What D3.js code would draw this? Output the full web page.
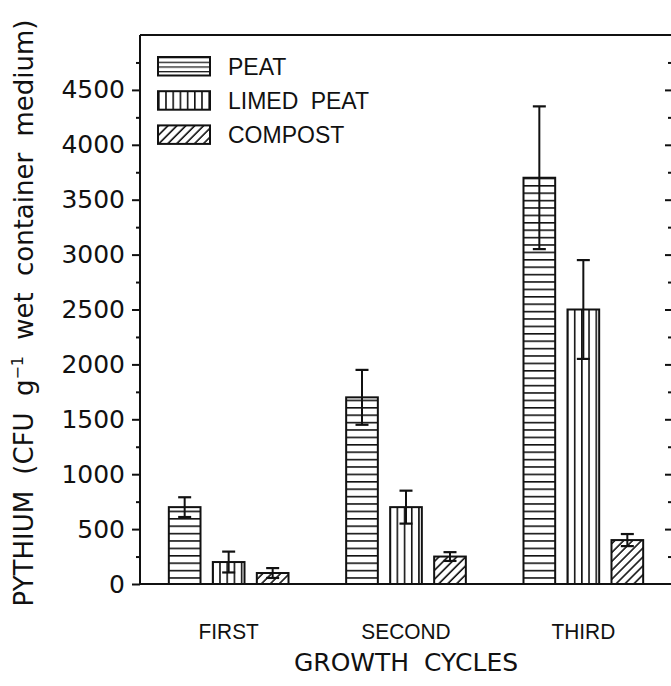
<!DOCTYPE html>
<html><head><meta charset="utf-8">
<script src="https://cdn.jsdelivr.net/npm/d3@7"></script>
<style>body{margin:0;background:#fff}svg{display:block}</style>
</head><body>
<svg id="chart" width="671" height="686"></svg>
<script>
const categories = ["FIRST", "SECOND", "THIRD"];
const seriesNames = ["PEAT", "LIMED PEAT", "COMPOST"];
const peat = [700, 1700, 3700];
const peatErr = [90, 250, 650];
const limedPeat = [200, 700, 2500];
const limedPeatErr = [95, 150, 450];
const compost = [100, 250, 400];
const compostErr = [45, 40, 55];
const yTicks = [0, 500, 1000, 1500, 2000, 2500, 3000, 3500, 4000, 4500];
const yMinorTicks = [250, 750, 1250, 1750, 2250, 2750, 3250, 3750, 4250, 4750];

const values = [peat, limedPeat, compost];
const errors = [peatErr, limedPeatErr, compostErr];
const patternIds = ["pHoriz", "pVert", "pDiag"];

const svg = d3.select("#chart");
const mLeft = 140, mRight = 672, mTop = 35, mBottom = 584;

const y = d3.scaleLinear().domain([0, 5000]).range([mBottom, mTop]);
const x = d3.scaleBand().domain(categories).range([mLeft, mRight]);
const xs = d3.scaleBand().domain(seriesNames).range([x.bandwidth()/2 - 66, x.bandwidth()/2 + 66]).paddingInner(0.28).paddingOuter(0.14);

// patterns
const defs = svg.append("defs");
const ph = defs.append("pattern").attr("id", "pHoriz").attr("patternUnits", "userSpaceOnUse").attr("width", 8).attr("height", 7.4);
ph.append("rect").attr("width", 8).attr("height", 7.4).attr("fill", "#fff");
ph.append("line").attr("x1", 0).attr("x2", 8).attr("y1", 0.8).attr("y2", 0.8).attr("stroke", "#111").attr("stroke-width", 1.6);
const phl = defs.append("pattern").attr("id", "pHorizLeg").attr("patternUnits", "userSpaceOnUse").attr("width", 8).attr("height", 4.7);
phl.append("rect").attr("width", 8).attr("height", 4.7).attr("fill", "#fff");
phl.append("line").attr("x1", 0).attr("x2", 8).attr("y1", 0.5).attr("y2", 0.5).attr("stroke", "#111").attr("stroke-width", 1.5);
const pv = defs.append("pattern").attr("id", "pVert").attr("patternUnits", "userSpaceOnUse").attr("width", 7.2).attr("height", 8);
pv.append("rect").attr("width", 7.2).attr("height", 8).attr("fill", "#fff");
pv.append("line").attr("y1", 0).attr("y2", 8).attr("x1", 0.8).attr("x2", 0.8).attr("stroke", "#111").attr("stroke-width", 1.6);
const pd = defs.append("pattern").attr("id", "pDiag").attr("patternUnits", "userSpaceOnUse").attr("width", 6.3).attr("height", 6.3).attr("patternTransform", "rotate(45)");
pd.append("rect").attr("width", 6.3).attr("height", 6.3).attr("fill", "#fff");
pd.append("line").attr("y1", 0).attr("y2", 6.3).attr("x1", 1).attr("x2", 1).attr("stroke", "#111").attr("stroke-width", 1.6);

// frame top line
svg.append("line").attr("x1", mLeft).attr("x2", 671).attr("y1", mTop).attr("y2", mTop).attr("stroke", "#111").attr("stroke-width", 2);

// bars
const groups = svg.append("g").selectAll("g").data(categories).join("g")
  .attr("transform", d => `translate(${x(d)},0)`);
seriesNames.forEach((s, si) => {
  groups.append("rect")
    .attr("x", xs(s)).attr("width", xs.bandwidth())
    .attr("y", (d, i) => y(values[si][i]))
    .attr("height", (d, i) => y(0) - y(values[si][i]))
    .attr("fill", `url(#${patternIds[si]})`)
    .attr("stroke", "#111").attr("stroke-width", 2);
  const cx = xs(s) + xs.bandwidth()/2;
  groups.append("line").attr("x1", cx).attr("x2", cx)
    .attr("y1", (d, i) => y(values[si][i] + errors[si][i]))
    .attr("y2", (d, i) => y(values[si][i] - errors[si][i]))
    .attr("stroke", "#111").attr("stroke-width", 2);
  [1, -1].forEach(sign => {
    groups.append("line").attr("x1", cx - 6.5).attr("x2", cx + 6.5)
      .attr("y1", (d, i) => y(values[si][i] + sign*errors[si][i]))
      .attr("y2", (d, i) => y(values[si][i] + sign*errors[si][i]))
      .attr("stroke", "#111").attr("stroke-width", 2.2);
  });
});

// left axis
const yAxis = svg.append("g").attr("transform", `translate(${mLeft},0)`)
  .call(d3.axisLeft(y).tickValues(yTicks).tickSize(8).tickPadding(7).tickFormat(d3.format("d")));
yAxis.select(".domain").attr("d", `M0,${mBottom}V${mTop}`).attr("stroke", "#111").attr("stroke-width", 2);
yAxis.selectAll(".tick line").attr("stroke", "#111").attr("stroke-width", 2);
yAxis.selectAll(".tick text").attr("font-family", "DejaVu Sans").attr("font-size", 25).attr("fill", "#111");
const yMinor = svg.append("g").attr("transform", `translate(${mLeft},0)`)
  .call(d3.axisLeft(y).tickValues(yMinorTicks).tickSize(4).tickFormat(""));
yMinor.select(".domain").remove();
yMinor.selectAll(".tick line").attr("stroke", "#111").attr("stroke-width", 2);

// right axis (inward ticks)
const rAxis = svg.append("g").attr("transform", `translate(${mRight},0)`)
  .call(d3.axisRight(y).tickValues(yTicks.filter(d => d > 0)).tickSize(-7).tickFormat(""));
rAxis.select(".domain").attr("d", `M0,${mBottom}V${mTop}`).attr("stroke", "#111").attr("stroke-width", 2);
rAxis.selectAll(".tick line").attr("stroke", "#111").attr("stroke-width", 2);
const rMinor = svg.append("g").attr("transform", `translate(${mRight},0)`)
  .call(d3.axisRight(y).tickValues(yMinorTicks).tickSize(-4).tickFormat(""));
rMinor.select(".domain").remove();
rMinor.selectAll(".tick line").attr("stroke", "#111").attr("stroke-width", 2);

// bottom axis
const xAxis = svg.append("g").attr("transform", `translate(0,${mBottom})`)
  .call(d3.axisBottom(x).tickSize(0).tickPadding(39));
xAxis.select(".domain").attr("d", `M${mLeft},0H${mRight}`).attr("stroke", "#111").attr("stroke-width", 2);
xAxis.selectAll(".tick text").attr("font-family", "Liberation Sans Narrow, Liberation Sans, Arial").attr("font-size", 22).attr("fill", "#111")
  .attr("transform", "scale(0.95,1)");

// axis titles
svg.append("text").attr("x", 406).attr("y", 671).attr("text-anchor", "middle")
  .attr("font-family", "DejaVu Sans").attr("font-size", 25).attr("fill", "#111").attr("word-spacing", 7)
  .text("GROWTH CYCLES");
const yt = svg.append("text").attr("transform", "translate(33,313) rotate(-90)").attr("text-anchor", "middle")
  .attr("font-family", "DejaVu Sans").attr("font-size", 26).attr("fill", "#111").attr("word-spacing", 8);
yt.append("tspan").text("PYTHIUM (CFU g");
yt.append("tspan").attr("dy", -10).attr("font-size", 16).text("−1");
yt.append("tspan").attr("dy", 10).text(" wet container medium)");

// legend
const legend = svg.append("g").selectAll("g").data(seriesNames).join("g")
  .attr("transform", (d, i) => `translate(158,${57 + i*34.2})`);
legend.append("rect").attr("width", 52).attr("height", 18.5)
  .attr("fill", (d, i) => `url(#${i === 0 ? "pHorizLeg" : patternIds[i]})`).attr("stroke", "#111").attr("stroke-width", 2);
legend.append("text").attr("x", 70).attr("y", 17.5)
  .attr("font-family", "Liberation Sans Narrow, Liberation Sans, Arial").attr("font-size", 23).attr("fill", "#111").attr("word-spacing", 6)
  .text(d => d);
</script>
</body></html>
